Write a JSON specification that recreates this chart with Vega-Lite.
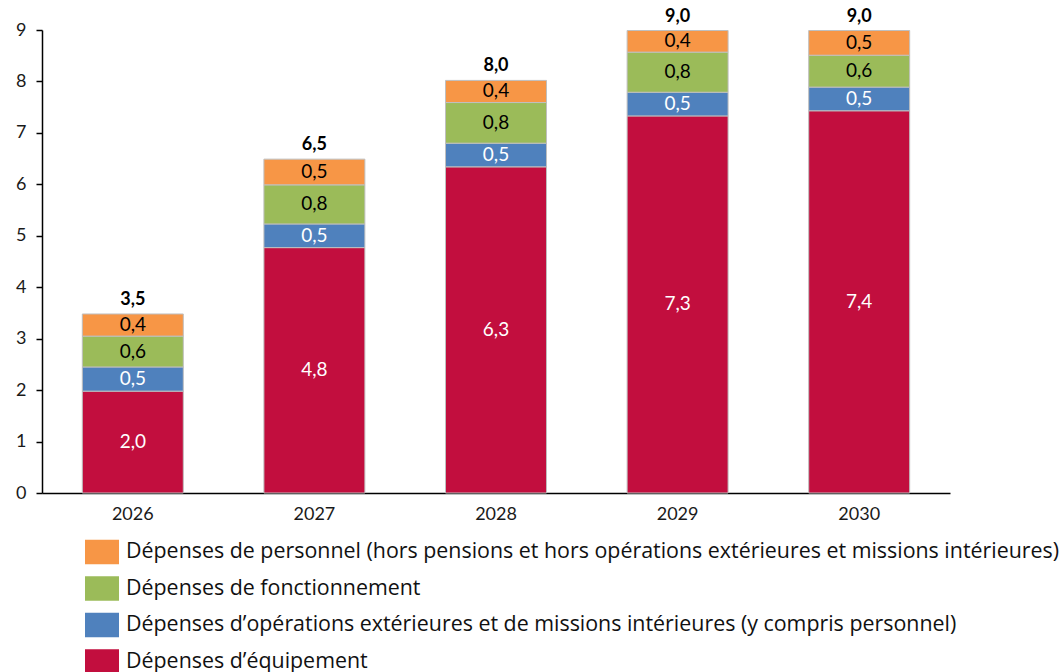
{
  "$schema": "https://vega.github.io/schema/vega-lite/v6.json",
  "width": 908,
  "height": 463,
  "autosize": {"type": "none"},
  "padding": {"left": 42, "top": 30, "right": 112, "bottom": 179},
  "config": {
    "font": "Lato",
    "view": {"stroke": null},
    "locale": {"number": {"decimal": ",", "thousands": " ", "grouping": [3], "currency": ["", " €"]}}
  },
  "datasets": {
    "seg": [
      {"annee": "2026", "cat": "Dépenses d’équipement", "ordre": 1, "valeur": 1.98},
      {"annee": "2026", "cat": "Dépenses d’opérations extérieures et de missions intérieures (y compris personnel)", "ordre": 2, "valeur": 0.47},
      {"annee": "2026", "cat": "Dépenses de fonctionnement", "ordre": 3, "valeur": 0.6},
      {"annee": "2026", "cat": "Dépenses de personnel (hors pensions et hors opérations extérieures et missions intérieures)", "ordre": 4, "valeur": 0.43},
      {"annee": "2027", "cat": "Dépenses d’équipement", "ordre": 1, "valeur": 4.77},
      {"annee": "2027", "cat": "Dépenses d’opérations extérieures et de missions intérieures (y compris personnel)", "ordre": 2, "valeur": 0.46},
      {"annee": "2027", "cat": "Dépenses de fonctionnement", "ordre": 3, "valeur": 0.76},
      {"annee": "2027", "cat": "Dépenses de personnel (hors pensions et hors opérations extérieures et missions intérieures)", "ordre": 4, "valeur": 0.5},
      {"annee": "2028", "cat": "Dépenses d’équipement", "ordre": 1, "valeur": 6.34},
      {"annee": "2028", "cat": "Dépenses d’opérations extérieures et de missions intérieures (y compris personnel)", "ordre": 2, "valeur": 0.46},
      {"annee": "2028", "cat": "Dépenses de fonctionnement", "ordre": 3, "valeur": 0.79},
      {"annee": "2028", "cat": "Dépenses de personnel (hors pensions et hors opérations extérieures et missions intérieures)", "ordre": 4, "valeur": 0.43},
      {"annee": "2029", "cat": "Dépenses d’équipement", "ordre": 1, "valeur": 7.33},
      {"annee": "2029", "cat": "Dépenses d’opérations extérieures et de missions intérieures (y compris personnel)", "ordre": 2, "valeur": 0.46},
      {"annee": "2029", "cat": "Dépenses de fonctionnement", "ordre": 3, "valeur": 0.78},
      {"annee": "2029", "cat": "Dépenses de personnel (hors pensions et hors opérations extérieures et missions intérieures)", "ordre": 4, "valeur": 0.42},
      {"annee": "2030", "cat": "Dépenses d’équipement", "ordre": 1, "valeur": 7.43},
      {"annee": "2030", "cat": "Dépenses d’opérations extérieures et de missions intérieures (y compris personnel)", "ordre": 2, "valeur": 0.46},
      {"annee": "2030", "cat": "Dépenses de fonctionnement", "ordre": 3, "valeur": 0.62},
      {"annee": "2030", "cat": "Dépenses de personnel (hors pensions et hors opérations extérieures et missions intérieures)", "ordre": 4, "valeur": 0.48}
    ],
    "tot": [
      {"annee": "2026", "total": 3.48},
      {"annee": "2027", "total": 6.49},
      {"annee": "2028", "total": 8.02},
      {"annee": "2029", "total": 8.99},
      {"annee": "2030", "total": 8.99}
    ]
  },
  "encoding": {
    "x": {
      "field": "annee", "type": "nominal", "title": null,
      "scale": {"paddingInner": 0.444, "paddingOuter": 0.222},
      "axis": {"labelAngle": 0, "ticks": false, "domainColor": "#000", "domainWidth": 1.5, "labelFontSize": 18, "labelColor": "#1a1a1a", "labelPadding": 12, "labelFont": "Lato"}
    }
  },
  "layer": [
    {
      "data": {"name": "seg"},
      "mark": {"type": "bar", "stroke": "#bfbfbf", "strokeWidth": 1},
      "encoding": {
        "y": {
          "field": "valeur", "type": "quantitative", "stack": "zero", "title": null,
          "scale": {"domain": [0, 9], "nice": false},
          "axis": {"values": [0,1,2,3,4,5,6,7,8,9], "grid": false, "domainColor": "#000", "domainWidth": 1.5, "tickColor": "#000", "tickSize": 6, "tickWidth": 1.5, "labelFontSize": 18, "labelColor": "#1a1a1a", "labelPadding": 10, "format": "d"}
        },
        "order": {"field": "ordre", "type": "quantitative"},
        "color": {
          "field": "cat", "type": "nominal",
          "scale": {
            "domain": [
              "Dépenses de personnel (hors pensions et hors opérations extérieures et missions intérieures)",
              "Dépenses de fonctionnement",
              "Dépenses d’opérations extérieures et de missions intérieures (y compris personnel)",
              "Dépenses d’équipement"
            ],
            "range": ["#F79646", "#9BBB59", "#4F81BD", "#C20E3E"]
          },
          "legend": {
            "title": null, "orient": "none", "legendX": 43, "legendY": 505,
            "direction": "vertical",
            "symbolType": "M-1,-0.72H1V0.72H-1Z", "symbolSize": 1156, "symbolStrokeWidth": 0,
            "labelFontSize": 21.4, "labelFont": "Open Sans", "labelColor": "#111", "labelLimit": 1000,
            "rowPadding": 6.5, "labelOffset": 7, "symbolOpacity": 1
          }
        }
      }
    },
    {
      "data": {"name": "seg"},
      "mark": {"type": "text", "fontSize": 19, "font": "Lato"},
      "encoding": {
        "y": {"field": "valeur", "type": "quantitative", "stack": "zero", "bandPosition": 0.5},
        "order": {"field": "ordre", "type": "quantitative"},
        "text": {"field": "valeur", "type": "quantitative", "format": ".1f"},
        "color": {
          "condition": {"test": "datum.ordre <= 2", "value": "#ffffff"},
          "value": "#000000"
        }
      }
    },
    {
      "data": {"name": "tot"},
      "mark": {"type": "text", "fontSize": 18, "fontWeight": "bold", "font": "Lato", "dy": -14, "color": "#000"},
      "encoding": {
        "y": {"field": "total", "type": "quantitative"},
        "text": {"field": "total", "type": "quantitative", "format": ".1f"}
      }
    }
  ]
}
